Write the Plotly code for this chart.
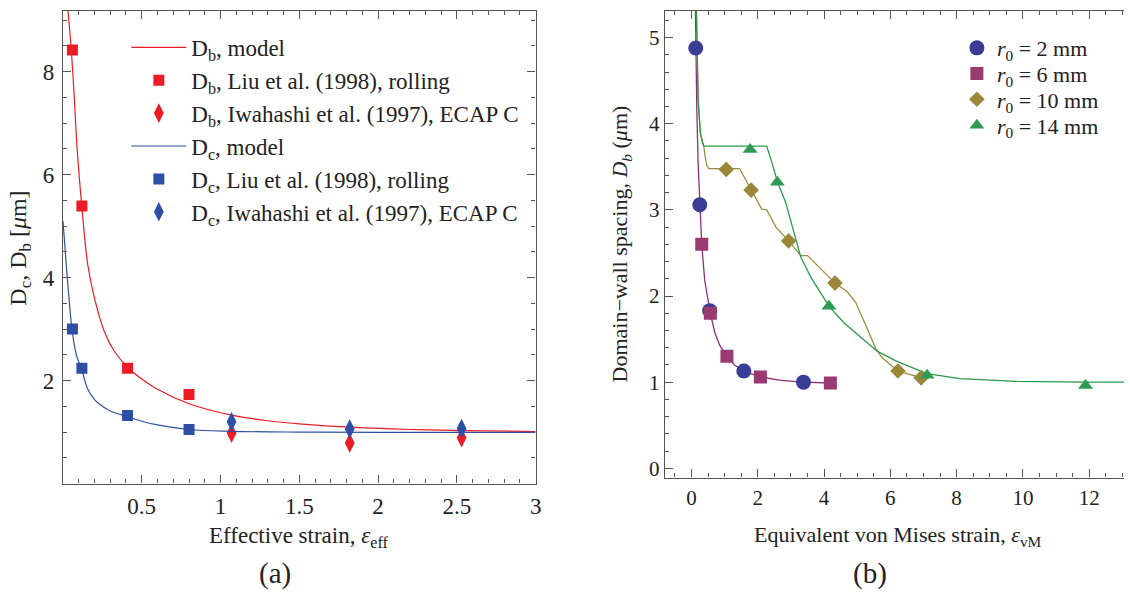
import plotly.graph_objects as go

# ---------------- Panel (a) data ----------------
liu_x = [0.06, 0.12, 0.41, 0.80]
db_liu = [8.42, 5.39, 2.24, 1.73]
dc_liu = [3.00, 2.24, 1.32, 1.05]
ecap_x = [1.07, 1.82, 2.53]
db_ecap = [0.98, 0.79, 0.89]
dc_ecap = [1.20, 1.06, 1.07]

db_model_x = [0.028, 0.04, 0.053, 0.07, 0.09, 0.12, 0.158, 0.2, 0.263, 0.326, 0.41, 0.5, 0.6, 0.8, 1.07, 1.3, 1.5, 1.85, 2.2, 2.53, 3.0]
db_model_y = [9.3, 8.9, 8.42, 7.6, 6.5, 5.37, 4.24, 3.6, 2.95, 2.57, 2.26, 2.03, 1.83, 1.55, 1.33, 1.22, 1.16, 1.09, 1.05, 1.03, 1.01]
dc_model_x = [0.0, 0.01, 0.021, 0.042, 0.057, 0.085, 0.12, 0.158, 0.2, 0.25, 0.3, 0.41, 0.5, 0.6, 0.8, 1.07, 1.5, 2.0, 3.0]
dc_model_y = [5.1, 4.7, 4.24, 3.47, 3.0, 2.5, 2.2, 1.83, 1.63, 1.5, 1.41, 1.3, 1.21, 1.14, 1.05, 1.015, 1.0, 0.995, 0.995]

a_xticks = [0.5, 1, 1.5, 2, 2.5, 3]
a_xticktext = ["0.5", "1", "1.5", "2", "2.5", "3"]
a_yticks = [2, 4, 6, 8]

# ---------------- Panel (b) data ----------------
r2_x = [0.13, 0.25, 0.55, 1.58, 3.38]
r2_y = [4.88, 3.06, 1.83, 1.13, 1.00]
r6_x = [0.31, 0.57, 1.07, 2.08, 4.19]
r6_y = [2.60, 1.80, 1.30, 1.06, 0.99]
r10_x = [1.05, 1.80, 2.93, 4.33, 6.23, 6.93]
r10_y = [3.47, 3.23, 2.64, 2.15, 1.13, 1.05]
r14_x = [1.77, 2.59, 4.15, 7.11, 11.89]
r14_y = [3.70, 3.32, 1.88, 1.08, 0.96]

r6_line_x = [0.115, 0.13, 0.16, 0.2, 0.25, 0.31, 0.4, 0.5, 0.56, 0.7, 0.85, 1.07, 1.3, 1.58, 2.08, 2.7, 3.38, 4.19]
r6_line_y = [5.45, 4.88, 4.2, 3.55, 3.06, 2.6, 2.18, 1.93, 1.82, 1.58, 1.43, 1.30, 1.2, 1.13, 1.06, 1.02, 1.0, 0.99]
r10_line_x = [0.14, 0.17, 0.2, 0.27, 0.33, 0.38, 0.42, 0.46, 0.52, 1.45, 1.81, 2.12, 2.27, 2.55, 2.93, 3.30, 3.5, 4.33, 4.7, 4.95, 5.26, 5.56, 5.76, 6.23, 6.93]
r10_line_y = [5.5, 4.8, 4.28, 3.89, 3.78, 3.72, 3.6, 3.52, 3.48, 3.48, 3.23, 3.01, 3.0, 2.80, 2.64, 2.47, 2.47, 2.15, 2.05, 1.93, 1.66, 1.39, 1.28, 1.13, 1.05]
r14_line_x = [0.14, 0.17, 0.2, 0.27, 0.33, 0.38, 2.27, 2.45, 2.59, 2.84, 3.05, 3.3, 3.6, 4.15, 4.6, 5.1, 5.6, 6.15, 7.1, 8.1, 9.8, 11.9, 13.2]
r14_line_y = [5.5, 4.8, 4.28, 3.89, 3.78, 3.74, 3.74, 3.52, 3.33, 3.09, 2.8, 2.45, 2.22, 1.88, 1.69, 1.52, 1.36, 1.25, 1.1, 1.04, 1.01, 1.0, 1.0]

b_xticks = [0, 2, 4, 6, 8, 10, 12]
b_yticks = [0, 1, 2, 3, 4, 5]

# ---------------- styling ----------------
W, H = 1130, 597
FONT = "Liberation Serif"
TXT = "#222222"
RED = "#ED1C24"
BLUE = "#2E4FA3"
C_CIRC = "#3A3C96"
C_SQ = "#993A70"
C_DIA = "#9A8838"
C_TRI = "#2E9A52"
L_PURP = "#8E2F76"
L_OLIVE = "#A08C40"
L_GREEN = "#2A9A4A"
AX = "#555555"

fig = go.Figure()

# Panel (a)
fig.add_trace(go.Scatter(x=db_model_x, y=db_model_y, mode="lines", line=dict(color=RED, width=1.2, shape="spline"),
                         name="D<sub>b</sub>, model", legend="legend", legendgroup="a1"))
fig.add_trace(go.Scatter(x=liu_x, y=db_liu, mode="markers", marker=dict(symbol="square", size=11, color=RED),
                         name="D<sub>b</sub>, Liu et al. (1998), rolling", legend="legend", legendgroup="a2"))
fig.add_trace(go.Scatter(x=ecap_x, y=db_ecap, mode="markers", marker=dict(symbol="diamond-tall", size=14, color=RED),
                         name="D<sub>b</sub>, Iwahashi et al. (1997), ECAP C", legend="legend", legendgroup="a3"))
fig.add_trace(go.Scatter(x=dc_model_x, y=dc_model_y, mode="lines", line=dict(color=BLUE, width=1.2, shape="spline"),
                         name="D<sub>c</sub>, model", legend="legend", legendgroup="a4"))
fig.add_trace(go.Scatter(x=liu_x, y=dc_liu, mode="markers", marker=dict(symbol="square", size=11, color=BLUE),
                         name="D<sub>c</sub>, Liu et al. (1998), rolling", legend="legend", legendgroup="a5"))
fig.add_trace(go.Scatter(x=ecap_x, y=dc_ecap, mode="markers", marker=dict(symbol="diamond-tall", size=14, color=BLUE),
                         name="D<sub>c</sub>, Iwahashi et al. (1997), ECAP C", legend="legend", legendgroup="a6"))

# Panel (b) lines
for lx, ly, c in [(r6_line_x, r6_line_y, L_PURP), (r10_line_x, r10_line_y, L_OLIVE), (r14_line_x, r14_line_y, L_GREEN)]:
    fig.add_trace(go.Scatter(x=lx, y=ly, mode="lines", line=dict(color=c, width=1.3), showlegend=False,
                             xaxis="x2", yaxis="y2"))
# Panel (b) markers, each with its own legend box so the rows can sit tightly
fig.add_trace(go.Scatter(x=r2_x, y=r2_y, mode="markers", marker=dict(symbol="circle", size=15, color=C_CIRC),
                         name="<i>r</i><sub>0</sub> = 2 mm", xaxis="x2", yaxis="y2", legend="legend2"))
fig.add_trace(go.Scatter(x=r6_x, y=r6_y, mode="markers", marker=dict(symbol="square", size=13, color=C_SQ),
                         name="<i>r</i><sub>0</sub> = 6 mm", xaxis="x2", yaxis="y2", legend="legend3"))
fig.add_trace(go.Scatter(x=r10_x, y=r10_y, mode="markers", marker=dict(symbol="diamond", size=12, color=C_DIA),
                         name="<i>r</i><sub>0</sub> = 10 mm", xaxis="x2", yaxis="y2", legend="legend4"))
fig.add_trace(go.Scatter(x=r14_x, y=r14_y, mode="markers", marker=dict(symbol="triangle-up", size=13, color=C_TRI),
                         name="<i>r</i><sub>0</sub> = 14 mm", xaxis="x2", yaxis="y2", legend="legend5"))

axcommon = dict(showgrid=False, zeroline=False, showline=True, linecolor=AX, linewidth=1.3,
                ticks="inside", tickcolor=AX, ticklen=8, tickwidth=1.1)
fa = dict(family=FONT, size=23, color=TXT)
fb = dict(family=FONT, size=21, color=TXT)


def rlegend(row_y):
    return dict(x=962 / W, y=(H - row_y) / H, xanchor="left", yanchor="middle", bgcolor="rgba(0,0,0,0)",
                font=dict(family=FONT, size=22, color=TXT), itemwidth=30)


fig.update_layout(
    width=W, height=H, margin=dict(l=0, r=0, t=0, b=0),
    paper_bgcolor="white", plot_bgcolor="white",
    font=dict(family=FONT, size=22, color=TXT),
    xaxis=dict(domain=[63.3 / W, 538.5 / W], range=[0, 3], tickvals=a_xticks, ticktext=a_xticktext,
               mirror="ticks", minor=dict(dtick=0.1, tick0=0, ticks="inside", ticklen=4, tickcolor=AX),
               anchor="y", tickfont=fa, ticklabelstandoff=2, **axcommon),
    yaxis=dict(domain=[(H - 486) / H, (H - 11) / H], range=[0, 9.18], tickvals=a_yticks,
               mirror="ticks", minor=dict(dtick=0.5, tick0=0, ticks="inside", ticklen=4, tickcolor=AX),
               anchor="x", tickfont=fa, ticklabelstandoff=3, **axcommon),
    xaxis2=dict(domain=[668.5 / W, 1.0], range=[-0.8, 13.05], tickvals=b_xticks,
                mirror="ticks", minor=dict(dtick=0.5, tick0=0, ticks="inside", ticklen=4, tickcolor=AX),
                anchor="y2", tickfont=fb, ticklabelstandoff=1, **axcommon),
    yaxis2=dict(domain=[(H - 480) / H, (H - 11) / H], range=[-0.108, 5.31], tickvals=b_yticks,
                mirror=False, minor=dict(dtick=0.2, tick0=0, ticks="inside", ticklen=4, tickcolor=AX),
                anchor="x2", tickfont=fb, **axcommon),
    legend=dict(x=127 / W, y=(H - 26) / H, xanchor="left", yanchor="top", bgcolor="rgba(0,0,0,0)",
                font=dict(family=FONT, size=23, color=TXT), tracegroupgap=2, itemwidth=55,
                traceorder="normal"),
    legend2=rlegend(48.3),
    legend3=rlegend(74),
    legend4=rlegend(100),
    legend5=rlegend(126),
    annotations=[
        dict(text="Effective strain, <i>ε</i><sub>eff</sub>", x=300.9 / W, y=(H - 540) / H, xref="paper", yref="paper",
             showarrow=False, xanchor="center", yanchor="middle", font=dict(family=FONT, size=23, color=TXT)),
        dict(text="Equivalent von Mises strain, <i>ε</i><sub>vM</sub>", x=903 / W, y=(H - 539) / H, xref="paper", yref="paper",
             showarrow=False, xanchor="center", yanchor="middle", font=dict(family=FONT, size=22, color=TXT)),
        dict(text="D<sub>c</sub>, D<sub>b</sub> [<i>μ</i>m]", x=20 / W, y=(H - 249) / H, xref="paper", yref="paper",
             showarrow=False, textangle=-90, xanchor="center", yanchor="middle", font=dict(family=FONT, size=24, color=TXT)),
        dict(text="Domain−wall spacing, <i>D<sub>b</sub></i> (<i>μ</i>m)", x=624 / W, y=(H - 245) / H, xref="paper", yref="paper",
             showarrow=False, textangle=-90, xanchor="center", yanchor="middle", font=dict(family=FONT, size=22, color=TXT)),
        dict(text="(a)", x=276 / W, y=(H - 576) / H, xref="paper", yref="paper", showarrow=False,
             xanchor="center", yanchor="middle", font=dict(family=FONT, size=29, color=TXT)),
        dict(text="(b)", x=875 / W, y=(H - 576) / H, xref="paper", yref="paper", showarrow=False,
             xanchor="center", yanchor="middle", font=dict(family=FONT, size=29, color=TXT)),
    ],
)

fig.write_html("out.html")
